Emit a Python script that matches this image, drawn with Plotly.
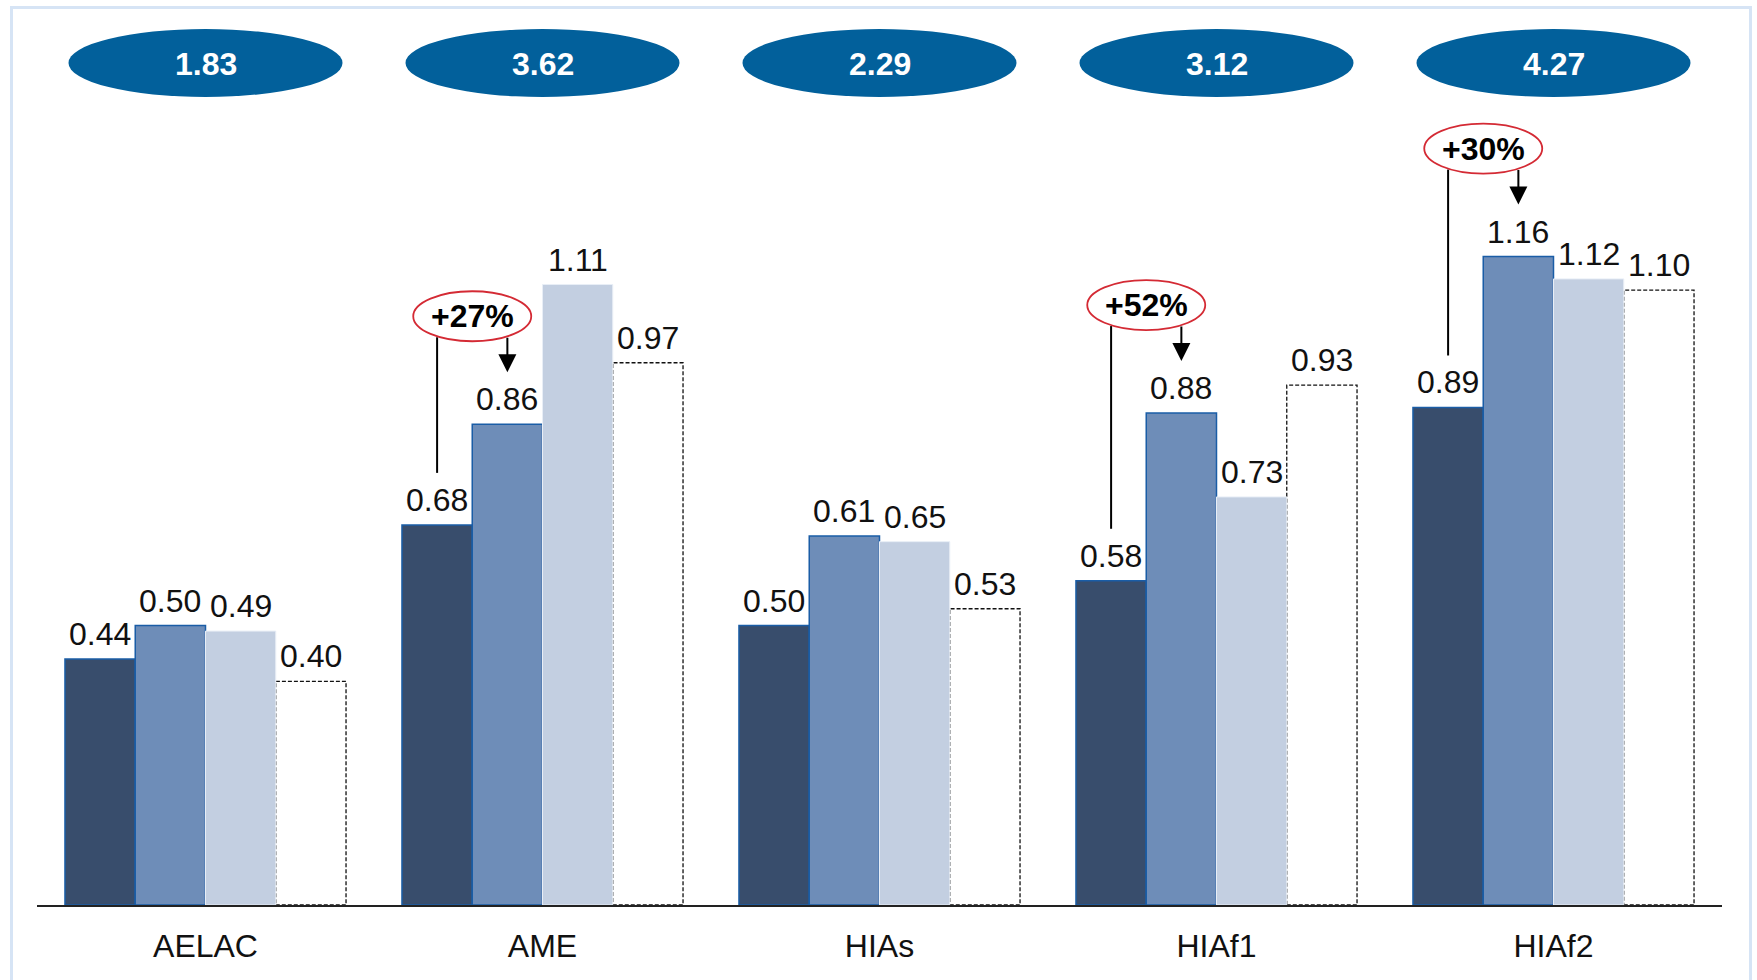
import plotly.graph_objects as go

# ---------------- data ----------------
categories = ["AELAC", "AME", "HIAs", "HIAf1", "HIAf2"]
totals = ["1.83", "3.62", "2.29", "3.12", "4.27"]

series1 = [0.44, 0.68, 0.50, 0.58, 0.89]   # dark
series2 = [0.50, 0.86, 0.66, 0.88, 1.16]   # medium (bar heights as drawn)
series3 = [0.49, 1.11, 0.65, 0.73, 1.12]   # light
series4 = [0.40, 0.97, 0.53, 0.93, 1.10]   # dashed outline

labels1 = ["0.44", "0.68", "0.50", "0.58", "0.89"]
labels2 = ["0.50", "0.86", "0.61", "0.88", "1.16"]
labels3 = ["0.49", "1.11", "0.65", "0.73", "1.12"]
labels4 = ["0.40", "0.97", "0.53", "0.93", "1.10"]

growth_categories = ["AME", "HIAf1", "HIAf2"]
growth_labels = ["+27%", "+52%", "+30%"]

# ---------------- styling / geometry ----------------
FONT = "Liberation Sans, Arial, sans-serif"
W, H = 1757, 980
ML, MR, MT, MB = 37, 35, 0, 75
PLOT_H = H - MT - MB
PPU = 559.0                     # pixels per value unit
YMAX = PLOT_H / PPU
PX_PER_CAT = (W - ML - MR) / len(categories)

BARGAP = 0.166
GROUP_W = 1 - BARGAP
BAR_W = GROUP_W / 4
offsets = [-GROUP_W / 2 + BAR_W * (k + 0.5) for k in range(4)]

C_DARK = "#384D6C"
C_MED = "#6E8DB8"
C_LIGHT = "#C3CFE1"
C_EDGE = "#1A5DA6"
C_PILL = "#02609B"
C_RED = "#D42A34"

def py(px):
    """data units for a pixel distance"""
    return px / PPU

fig = go.Figure()
series = [series1, series2, series3, series4]
labels = [labels1, labels2, labels3, labels4]
fills = [C_DARK, C_MED, C_LIGHT, "rgba(0,0,0,0)"]
lines = [dict(color=C_EDGE, width=1.5), dict(color=C_EDGE, width=1.5),
         dict(color="#E8EEF6", width=1), dict(width=0)]
for k in range(4):
    fig.add_trace(go.Bar(x=categories, y=series[k], marker=dict(color=fills[k], line=lines[k]),
                         showlegend=False, hoverinfo="skip"))

shapes = []
annotations = []

# dashed outline bars
for i, v in enumerate(series4):
    xc = i + offsets[3]
    shapes.append(dict(type="rect", xref="x", yref="y", layer="below",
                       x0=xc - BAR_W / 2, x1=xc + BAR_W / 2, y0=0, y1=v,
                       line=dict(color="#111111", width=1.3, dash="4px,2px"),
                       fillcolor="white"))

# value labels
for k in range(4):
    for i, (v, t) in enumerate(zip(series[k], labels[k])):
        annotations.append(dict(x=i + offsets[k], y=v, xref="x", yref="y", text=t,
                                showarrow=False, yanchor="bottom", yshift=5,
                                font=dict(family=FONT, size=32, color="#111111")))

# top total pills
pill_hw = 137 / PX_PER_CAT
for i, t in enumerate(totals):
    y0, y1 = py(H - MB - 97), py(H - MB - 29)
    shapes.append(dict(type="circle", xref="x", yref="y", x0=i - pill_hw, x1=i + pill_hw,
                       y0=y0, y1=y1, fillcolor=C_PILL, line=dict(width=0)))
    annotations.append(dict(x=i, y=(y0 + y1) / 2, xref="x", yref="y", text="<b>%s</b>" % t,
                            showarrow=False, yshift=-1,
                            font=dict(family=FONT, size=32, color="white")))

# growth callouts
for cat, g in zip(growth_categories, growth_labels):
    i = categories.index(cat)
    d, m = series1[i], series2[i]
    xd, xm = i + offsets[0], i + offsets[1]
    cy = m + py(108)
    cx = (xd + xm) / 2
    # vertical line towards dark bar
    shapes.append(dict(type="line", xref="x", yref="y", x0=xd, x1=xd,
                       y0=cy - py(21), y1=d + py(52), line=dict(color="black", width=2)))
    # arrow to medium bar
    annotations.append(dict(x=xm, y=m + py(52), xref="x", yref="y", text="",
                            showarrow=True, ax=0, ay=-36, arrowhead=2, arrowsize=1.8,
                            arrowwidth=2, arrowcolor="black", standoff=0, startstandoff=0))
    # red ellipse
    shapes.append(dict(type="circle", xref="x", yref="y",
                       x0=cx - 59 / PX_PER_CAT, x1=cx + 59 / PX_PER_CAT,
                       y0=cy - py(25), y1=cy + py(25),
                       fillcolor="white", line=dict(color=C_RED, width=1.8)))
    annotations.append(dict(x=cx, y=cy, xref="x", yref="y", text="<b>%s</b>" % g,
                            showarrow=False, font=dict(family=FONT, size=32, color="black")))

# outer light-blue frame
plot_w = W - ML - MR
shapes.append(dict(type="rect", xref="paper", yref="paper",
                   x0=(11.5 - ML) / plot_w, x1=(1750.5 - ML) / plot_w,
                   y0=-0.15, y1=(PLOT_H - 7.5) / PLOT_H,
                   line=dict(color="#D6E4F5", width=3), fillcolor="rgba(0,0,0,0)", layer="below"))

fig.update_layout(
    width=W, height=H,
    margin=dict(l=ML, r=MR, t=MT, b=MB),
    paper_bgcolor="white", plot_bgcolor="white",
    barmode="group", bargap=BARGAP, bargroupgap=0,
    shapes=shapes, annotations=annotations,
    xaxis=dict(showline=True, linecolor="#222222", linewidth=2, ticks="",
               showgrid=False, zeroline=False, ticklabelstandoff=12,
               tickfont=dict(family=FONT, size=32, color="#111111"), fixedrange=True),
    yaxis=dict(range=[0, YMAX], visible=False, fixedrange=True),
    font=dict(family=FONT),
)

fig.write_html("out.html", config={"displayModeBar": False})
